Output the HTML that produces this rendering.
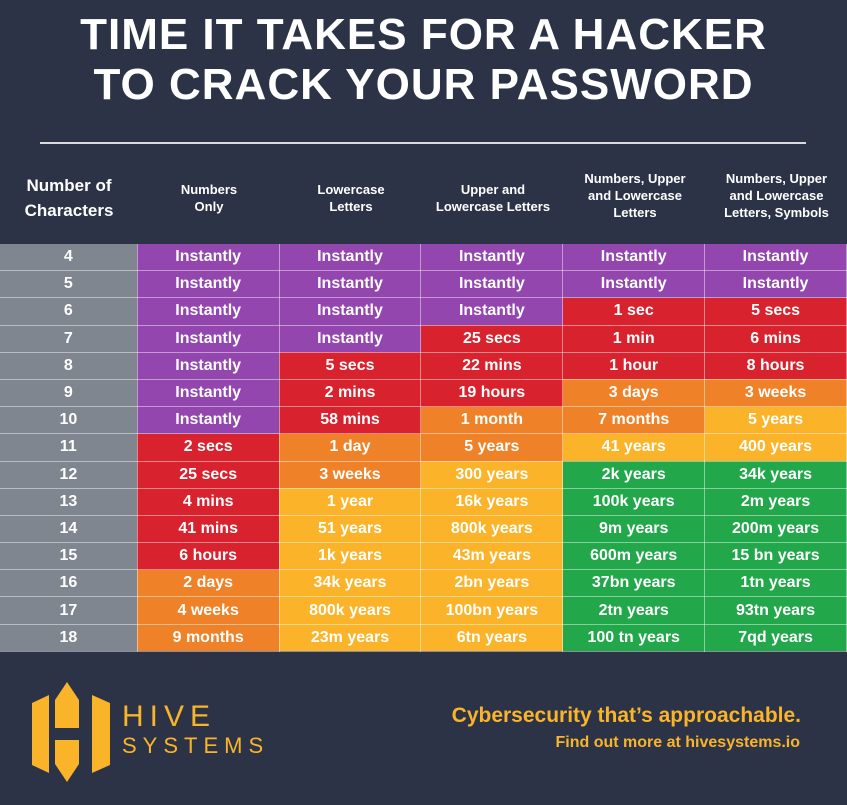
<!DOCTYPE html><html><head><style>
body{margin:0;width:847px;height:805px;background:#2c3346;font-family:"Liberation Sans",sans-serif;overflow:hidden;position:relative}
.t{position:absolute;left:0;width:847px;text-align:center;color:#fff;font-weight:bold;font-size:44px;letter-spacing:1px}
.hd{position:absolute;color:#fff;font-weight:bold;font-size:13px;text-align:center;line-height:17px}
table{position:absolute;left:0;top:244px;border-collapse:collapse}
td{width:141px;height:26.2px;padding:0;text-align:center;color:#fff;font-weight:bold;font-size:16px;border:1px solid rgba(255,255,255,0.45);border-top:0;border-left:0}
td:first-child{width:137px;background:#80868f;font-size:16px}
.p{background:#9346ae}.r{background:#d8232f}.o{background:#ef8228}.y{background:#fbb32a}.g{background:#22a84b}
</style></head><body>
<div class="t" style="top:10px">TIME IT TAKES FOR A HACKER</div>
<div class="t" style="top:60px">TO CRACK YOUR PASSWORD</div>
<div style="position:absolute;left:40px;top:142px;width:766px;height:2px;background:#d8dae0"></div>
<div class="hd" style="left:0;width:138px;top:173px;font-size:17px;line-height:25px">Number of<br>Characters</div>
<div class="hd" style="left:138px;width:142px;top:181px">Numbers<br>Only</div>
<div class="hd" style="left:280px;width:142px;top:181px">Lowercase<br>Letters</div>
<div class="hd" style="left:422px;width:142px;top:181px">Upper and<br>Lowercase Letters</div>
<div class="hd" style="left:564px;width:142px;top:170px">Numbers, Upper<br>and Lowercase<br>Letters</div>
<div class="hd" style="left:706px;width:141px;top:170px">Numbers, Upper<br>and Lowercase<br>Letters, Symbols</div>
<table>
<tr><td>4</td><td class="p">Instantly</td><td class="p">Instantly</td><td class="p">Instantly</td><td class="p">Instantly</td><td class="p">Instantly</td></tr>
<tr><td>5</td><td class="p">Instantly</td><td class="p">Instantly</td><td class="p">Instantly</td><td class="p">Instantly</td><td class="p">Instantly</td></tr>
<tr><td>6</td><td class="p">Instantly</td><td class="p">Instantly</td><td class="p">Instantly</td><td class="r">1 sec</td><td class="r">5 secs</td></tr>
<tr><td>7</td><td class="p">Instantly</td><td class="p">Instantly</td><td class="r">25 secs</td><td class="r">1 min</td><td class="r">6 mins</td></tr>
<tr><td>8</td><td class="p">Instantly</td><td class="r">5 secs</td><td class="r">22 mins</td><td class="r">1 hour</td><td class="r">8 hours</td></tr>
<tr><td>9</td><td class="p">Instantly</td><td class="r">2 mins</td><td class="r">19 hours</td><td class="o">3 days</td><td class="o">3 weeks</td></tr>
<tr><td>10</td><td class="p">Instantly</td><td class="r">58 mins</td><td class="o">1 month</td><td class="o">7 months</td><td class="y">5 years</td></tr>
<tr><td>11</td><td class="r">2 secs</td><td class="o">1 day</td><td class="o">5 years</td><td class="y">41 years</td><td class="y">400 years</td></tr>
<tr><td>12</td><td class="r">25 secs</td><td class="o">3 weeks</td><td class="y">300 years</td><td class="g">2k years</td><td class="g">34k years</td></tr>
<tr><td>13</td><td class="r">4 mins</td><td class="y">1 year</td><td class="y">16k years</td><td class="g">100k years</td><td class="g">2m years</td></tr>
<tr><td>14</td><td class="r">41 mins</td><td class="y">51 years</td><td class="y">800k years</td><td class="g">9m years</td><td class="g">200m years</td></tr>
<tr><td>15</td><td class="r">6 hours</td><td class="y">1k years</td><td class="y">43m years</td><td class="g">600m years</td><td class="g">15 bn years</td></tr>
<tr><td>16</td><td class="o">2 days</td><td class="y">34k years</td><td class="y">2bn years</td><td class="g">37bn years</td><td class="g">1tn years</td></tr>
<tr><td>17</td><td class="o">4 weeks</td><td class="y">800k years</td><td class="y">100bn years</td><td class="g">2tn years</td><td class="g">93tn years</td></tr>
<tr><td>18</td><td class="o">9 months</td><td class="y">23m years</td><td class="y">6tn years</td><td class="g">100 tn years</td><td class="g">7qd years</td></tr>
</table>
<svg style="position:absolute;left:0;top:640px" width="847" height="165">
<polygon points="32,63 49,55 49,133 32,125" fill="#f9b42a"/>
<polygon points="92,55 110,63 110,125 92,133" fill="#f9b42a"/>
<polygon points="55,60 67,42 79,60 79,88 55,88" fill="#f9b42a"/>
<polygon points="55,100 79,100 79,124 67,142 55,124" fill="#f9b42a"/>
</svg>
<div style="position:absolute;left:122px;top:702px;color:#f9b42a;font-size:30px;letter-spacing:6px;line-height:30px">HIVE</div>
<div style="position:absolute;left:122px;top:734px;color:#f9b42a;font-size:22px;letter-spacing:6px;line-height:24px">SYSTEMS</div>
<div style="position:absolute;right:46px;top:704px;color:#f9b42a;font-size:21px;font-weight:bold">Cybersecurity that’s approachable.</div>
<div style="position:absolute;right:47px;top:734px;color:#f9b42a;font-size:16px;font-weight:bold">Find out more at hivesystems.io</div>
</body></html>
